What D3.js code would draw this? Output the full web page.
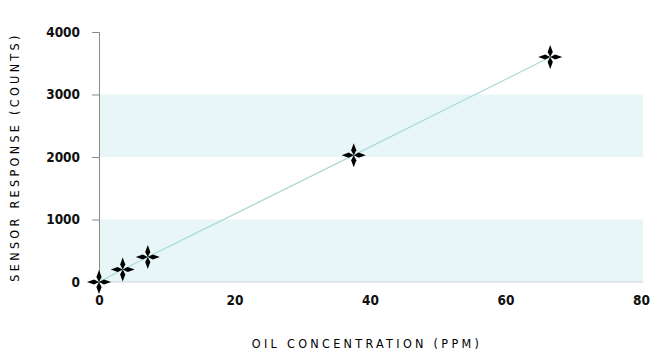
<!DOCTYPE html>
<html>
<head>
<meta charset="utf-8">
<script src="https://cdn.jsdelivr.net/npm/d3@7"></script>
<style>
  body { margin: 0; background: #fff; }
  svg text { font-family: "DejaVu Sans Condensed", "DejaVu Sans", sans-serif; fill: #111; }
  .tick text { font-size: 13.5px; font-weight: bold; }
  .title { font-size: 12.5px; font-weight: normal; letter-spacing: 3.3px; fill: #000; }
</style>
</head>
<body>
<svg width="650" height="354"></svg>
<script>
const concentration = [0, 3.5, 7.2, 37.6, 66.6];
const response = [0, 200, 400, 2030, 3600];
const xTicks = [0, 20, 40, 60, 80];
const yTicks = [0, 1000, 2000, 3000, 4000];
const bands = [[0, 1000], [2000, 3000]];

const svg = d3.select("svg");
const margin = {top: 32, right: 9, bottom: 72, left: 99};
const width = 650 - margin.left - margin.right;
const height = 354 - margin.top - margin.bottom;

const g = svg.append("g").attr("transform", `translate(${margin.left},${margin.top})`);

const x = d3.scaleLinear().domain([0, 80]).range([0, width]);
const y = d3.scaleLinear().domain([0, 4000]).range([height, 0]);

// shaded bands
g.selectAll("rect.band").data(bands).enter().append("rect")
  .attr("class", "band")
  .attr("x", 0)
  .attr("width", width + 2)
  .attr("y", d => y(d[1]))
  .attr("height", d => y(d[0]) - y(d[1]))
  .attr("fill", "#e9f6f7");

// bottom line
g.append("line")
  .attr("x1", 0).attr("x2", width + 2)
  .attr("y1", y(0)).attr("y2", y(0))
  .attr("stroke", "#c9d6d8");

// y axis
const yAxis = g.append("g")
  .call(d3.axisLeft(y).tickValues(yTicks).tickFormat(d3.format("d")).tickSize(7).tickPadding(12));
yAxis.select(".domain").attr("stroke", "#888");
yAxis.selectAll(".tick line").attr("stroke", "#888");
yAxis.selectAll(".tick").filter(d => d === 0).select("line").remove();

// x axis labels only
const xAxis = g.append("g")
  .attr("transform", `translate(0,${height})`)
  .call(d3.axisBottom(x).tickValues(xTicks).tickSize(0).tickPadding(13));
xAxis.select(".domain").remove();

// line
const line = d3.line().x((d, i) => x(concentration[i])).y(d => y(d));
g.append("path")
  .datum(response)
  .attr("d", line)
  .attr("fill", "none")
  .attr("stroke", "#a9dbd6")
  .attr("stroke-width", 1.2);

// star markers
const arm = "M0,0 L2.6,-5 L0,-12 L-2.6,-5 Z";
const marks = g.selectAll("g.mark").data(response).enter().append("g")
  .attr("class", "mark")
  .attr("transform", (d, i) => `translate(${x(concentration[i])},${y(d)})`);
[0, 90, 180, 270].forEach(a => {
  marks.append("path")
    .attr("d", arm)
    .attr("transform", `rotate(${a})`)
    .attr("fill", "#000");
});

// titles
svg.append("text")
  .attr("class", "title")
  .attr("text-anchor", "middle")
  .attr("transform", `translate(19,${margin.top + height / 2}) rotate(-90)`)
  .text("SENSOR RESPONSE (COUNTS)");

svg.append("text")
  .attr("class", "title")
  .attr("text-anchor", "middle")
  .attr("x", 367)
  .attr("y", 348)
  .text("OIL CONCENTRATION (PPM)");
</script>
</body>
</html>
